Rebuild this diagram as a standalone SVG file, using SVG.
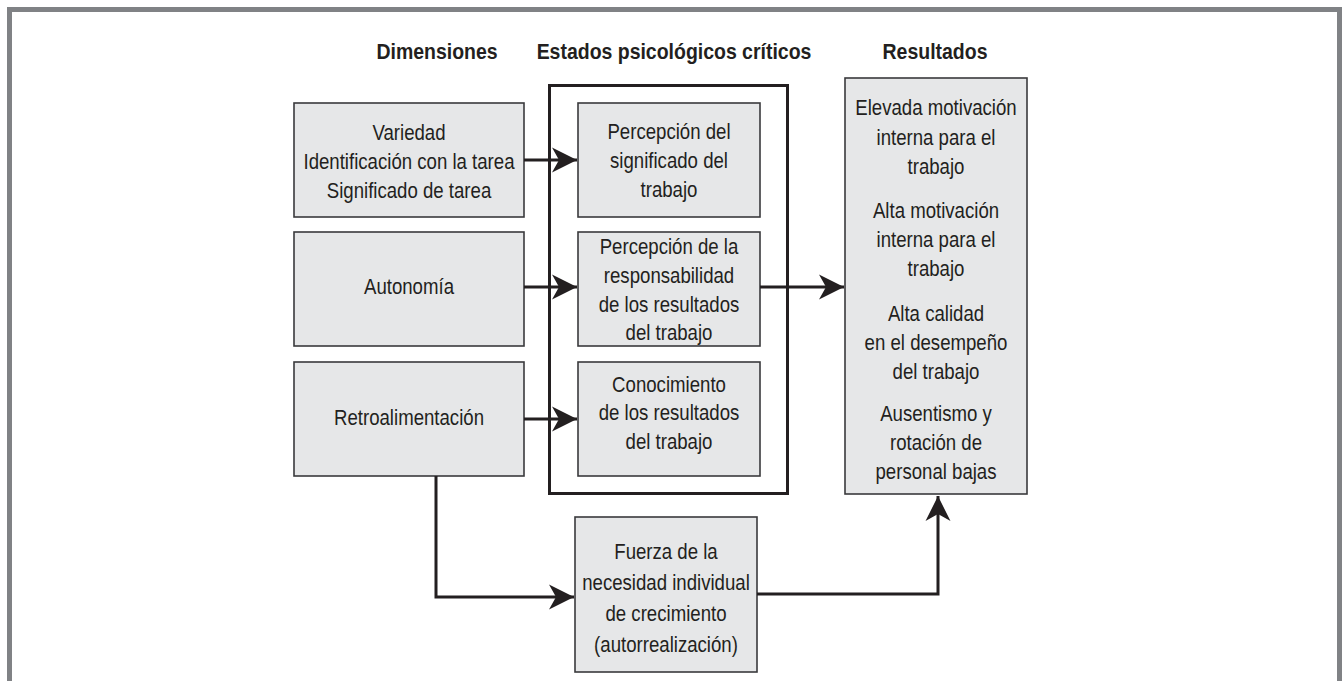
<svg xmlns="http://www.w3.org/2000/svg" width="1342" height="681" viewBox="0 0 1342 681">
<style>
.box{fill:#e6e7e8;stroke:#3a3a3c;stroke-width:1.6}
.t{font-family:"Liberation Sans",Arial,sans-serif;font-size:23px;fill:#231f20;text-anchor:middle}
.h{font-family:"Liberation Sans",Arial,sans-serif;font-size:22px;font-weight:bold;fill:#231f20;text-anchor:middle}
.c{fill:none;stroke:#231f20;stroke-width:3}
</style>
<defs>
<marker id="ah" markerUnits="userSpaceOnUse" viewBox="-26 -13 27 26" refX="0" refY="0" markerWidth="27" markerHeight="26" orient="auto">
<path d="M0,0 L-25,-12.5 L-18,0 L-25,12.5 Z" fill="#231f20"/>
</marker>
</defs>
<rect x="0" y="0" width="1342" height="681" fill="#ffffff"/>
<path d="M9.5,681 V9.5 H1339.5 V681" fill="none" stroke="#808285" stroke-width="5"/>
<g id="headers">
<g transform="translate(437,0) scale(0.885,1)"><text class="h" x="0" y="59">Dimensiones</text></g>
<g transform="translate(674,0) scale(0.885,1)"><text class="h" x="0" y="59">Estados psicológicos críticos</text></g>
<g transform="translate(935,0) scale(0.885,1)"><text class="h" x="0" y="59">Resultados</text></g>
</g>
<g id="estados-frame"><rect x="549.5" y="85.5" width="238" height="408" fill="none" stroke="#231f20" stroke-width="3"/></g>
<g id="variedad">
<rect class="box" x="294" y="103" width="230" height="114"/>
<g transform="translate(409,0) scale(0.81,1)">
<text class="t" x="0" y="140">Variedad</text>
<text class="t" x="0" y="169">Identificación con la tarea</text>
<text class="t" x="0" y="198">Significado de tarea</text>
</g>
</g>
<g id="autonomia">
<rect class="box" x="294" y="232" width="230" height="114"/>
<g transform="translate(409,0) scale(0.81,1)"><text class="t" x="0" y="294">Autonomía</text></g>
</g>
<g id="retroalimentacion">
<rect class="box" x="294" y="362" width="230" height="114"/>
<g transform="translate(409,0) scale(0.81,1)"><text class="t" x="0" y="425">Retroalimentación</text></g>
</g>
<g id="significado">
<rect class="box" x="578" y="103" width="182" height="114"/>
<g transform="translate(669,0) scale(0.81,1)">
<text class="t" x="0" y="139">Percepción del</text>
<text class="t" x="0" y="168">significado del</text>
<text class="t" x="0" y="197">trabajo</text>
</g>
</g>
<g id="responsabilidad">
<rect class="box" x="578" y="232" width="182" height="114"/>
<g transform="translate(669,0) scale(0.81,1)">
<text class="t" x="0" y="254">Percepción de la</text>
<text class="t" x="0" y="283">responsabilidad</text>
<text class="t" x="0" y="312">de los resultados</text>
<text class="t" x="0" y="340">del trabajo</text>
</g>
</g>
<g id="conocimiento">
<rect class="box" x="578" y="362" width="182" height="114"/>
<g transform="translate(669,0) scale(0.81,1)">
<text class="t" x="0" y="392">Conocimiento</text>
<text class="t" x="0" y="420">de los resultados</text>
<text class="t" x="0" y="449">del trabajo</text>
</g>
</g>
<g id="resultados">
<rect class="box" x="845" y="78" width="182" height="416"/>
<g transform="translate(936,0) scale(0.81,1)">
<text class="t" x="0" y="115">Elevada motivación</text>
<text class="t" x="0" y="145">interna para el</text>
<text class="t" x="0" y="174">trabajo</text>
<text class="t" x="0" y="218">Alta motivación</text>
<text class="t" x="0" y="247">interna para el</text>
<text class="t" x="0" y="276">trabajo</text>
<text class="t" x="0" y="321">Alta calidad</text>
<text class="t" x="0" y="350">en el desempeño</text>
<text class="t" x="0" y="379">del trabajo</text>
<text class="t" x="0" y="421">Ausentismo y</text>
<text class="t" x="0" y="450">rotación de</text>
<text class="t" x="0" y="479">personal bajas</text>
</g>
</g>
<g id="fuerza">
<rect class="box" x="575" y="517" width="182" height="155"/>
<g transform="translate(666,0) scale(0.81,1)">
<text class="t" x="0" y="559">Fuerza de la</text>
<text class="t" x="0" y="590">necesidad individual</text>
<text class="t" x="0" y="621">de crecimiento</text>
<text class="t" x="0" y="652">(autorrealización)</text>
</g>
</g>
<g id="connectors">
<path class="c" d="M524,160 H577" marker-end="url(#ah)"/>
<path class="c" d="M524,287 H577" marker-end="url(#ah)"/>
<path class="c" d="M524,419 H577" marker-end="url(#ah)"/>
<path class="c" d="M760,287 H844" marker-end="url(#ah)"/>
<path class="c" d="M436,476 V597 H574" marker-end="url(#ah)"/>
<path class="c" d="M757,594 H938 V496" marker-end="url(#ah)"/>
</g>
</svg>
